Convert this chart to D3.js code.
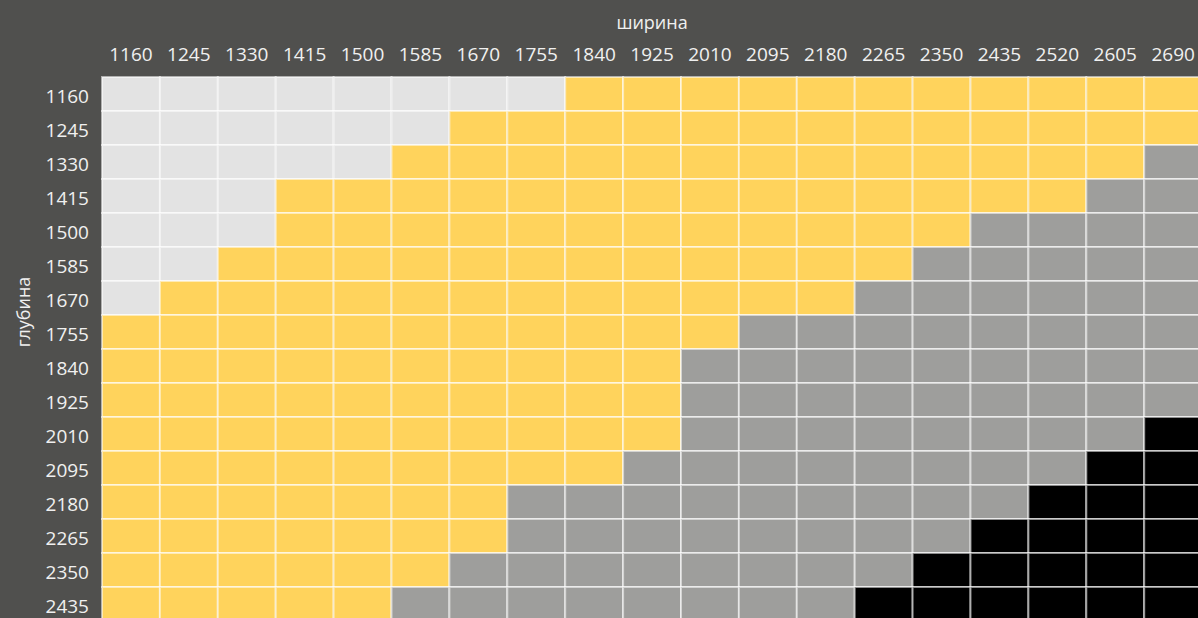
<!DOCTYPE html>
<html>
<head>
<meta charset="utf-8">
<script src="https://cdn.jsdelivr.net/npm/d3@7"></script>
<style>
  html, body { margin: 0; padding: 0; background: #50504e; overflow: hidden; }
  svg { display: block; }
  text { font-family: "Open Sans", sans-serif; fill: #f0f0f0; }
</style>
</head>
<body>
<svg id="chart" width="1198" height="618"></svg>
<script>
// Column labels (ширина) and row labels (глубина)
const widths = ["1160","1245","1330","1415","1500","1585","1670","1755","1840","1925","2010","2095","2180","2265","2350","2435","2520","2605","2690"];
const depths = ["1160","1245","1330","1415","1500","1585","1670","1755","1840","1925","2010","2095","2180","2265","2350","2435"];

// Category codes per cell: 0 = light gray, 1 = yellow, 2 = gray, 3 = black
const row1160 = [0,0,0,0,0,0,0,0,1,1,1,1,1,1,1,1,1,1,1];
const row1245 = [0,0,0,0,0,0,1,1,1,1,1,1,1,1,1,1,1,1,1];
const row1330 = [0,0,0,0,0,1,1,1,1,1,1,1,1,1,1,1,1,1,2];
const row1415 = [0,0,0,1,1,1,1,1,1,1,1,1,1,1,1,1,1,2,2];
const row1500 = [0,0,0,1,1,1,1,1,1,1,1,1,1,1,1,2,2,2,2];
const row1585 = [0,0,1,1,1,1,1,1,1,1,1,1,1,1,2,2,2,2,2];
const row1670 = [0,1,1,1,1,1,1,1,1,1,1,1,1,2,2,2,2,2,2];
const row1755 = [1,1,1,1,1,1,1,1,1,1,1,2,2,2,2,2,2,2,2];
const row1840 = [1,1,1,1,1,1,1,1,1,1,2,2,2,2,2,2,2,2,2];
const row1925 = [1,1,1,1,1,1,1,1,1,1,2,2,2,2,2,2,2,2,2];
const row2010 = [1,1,1,1,1,1,1,1,1,1,2,2,2,2,2,2,2,2,3];
const row2095 = [1,1,1,1,1,1,1,1,1,2,2,2,2,2,2,2,2,3,3];
const row2180 = [1,1,1,1,1,1,1,2,2,2,2,2,2,2,2,2,3,3,3];
const row2265 = [1,1,1,1,1,1,1,2,2,2,2,2,2,2,2,3,3,3,3];
const row2350 = [1,1,1,1,1,1,2,2,2,2,2,2,2,2,3,3,3,3,3];
const row2435 = [1,1,1,1,1,2,2,2,2,2,2,2,2,3,3,3,3,3,3];
const matrix = [row1160,row1245,row1330,row1415,row1500,row1585,row1670,row1755,row1840,row1925,row2010,row2095,row2180,row2265,row2350,row2435];

const categoryCodes = [0,1,2,3];
const categoryColors = ["#e3e3e3","#ffd35c","#9e9e9c","#000000"];

const svg = d3.select("#chart");
const gridLeft = 102, gridTop = 77, cellW = 57.9, cellH = 34;

const x = d3.scaleBand().domain(widths).range([gridLeft, gridLeft + cellW * widths.length]).padding(0);
const y = d3.scaleBand().domain(depths).range([gridTop, gridTop + cellH * depths.length]).padding(0);
const color = d3.scaleOrdinal().domain(categoryCodes).range(categoryColors);

const cells = [];
matrix.forEach((row, i) => row.forEach((v, j) => cells.push({d: depths[i], w: widths[j], v})));

svg.append("g").selectAll("rect").data(cells).join("rect")
  .attr("x", d => x(d.w))
  .attr("y", d => y(d.d))
  .attr("width", x.bandwidth())
  .attr("height", y.bandwidth())
  .attr("fill", d => color(d.v))
  .attr("stroke", "rgba(255,255,255,0.55)")
  .attr("stroke-width", 2);

// Top axis
const xAxis = svg.append("g").attr("transform", `translate(0,${gridTop - 16})`)
  .call(d3.axisTop(x).tickSize(0).tickPadding(0));
xAxis.select(".domain").remove();
xAxis.selectAll("text").attr("font-size", 19).attr("fill", "#f0f0f0").attr("dy", "0em")
  .style("font-family", "'Open Sans', sans-serif");

// Left axis
const yAxis = svg.append("g").attr("transform", `translate(${gridLeft - 13},0)`)
  .call(d3.axisLeft(y).tickSize(0).tickPadding(0));
yAxis.select(".domain").remove();
yAxis.selectAll("text").attr("font-size", 19).attr("fill", "#f0f0f0").attr("dy", "0.45em")
  .style("font-family", "'Open Sans', sans-serif");

// Titles
svg.append("text").attr("x", gridLeft + cellW * widths.length / 2).attr("y", 29)
  .attr("text-anchor", "middle").attr("font-size", 18).text("ширина");
svg.append("text").attr("transform", "translate(30,312) rotate(-90)")
  .attr("text-anchor", "middle").attr("font-size", 18).text("глубина");
</script>
</body>
</html>
